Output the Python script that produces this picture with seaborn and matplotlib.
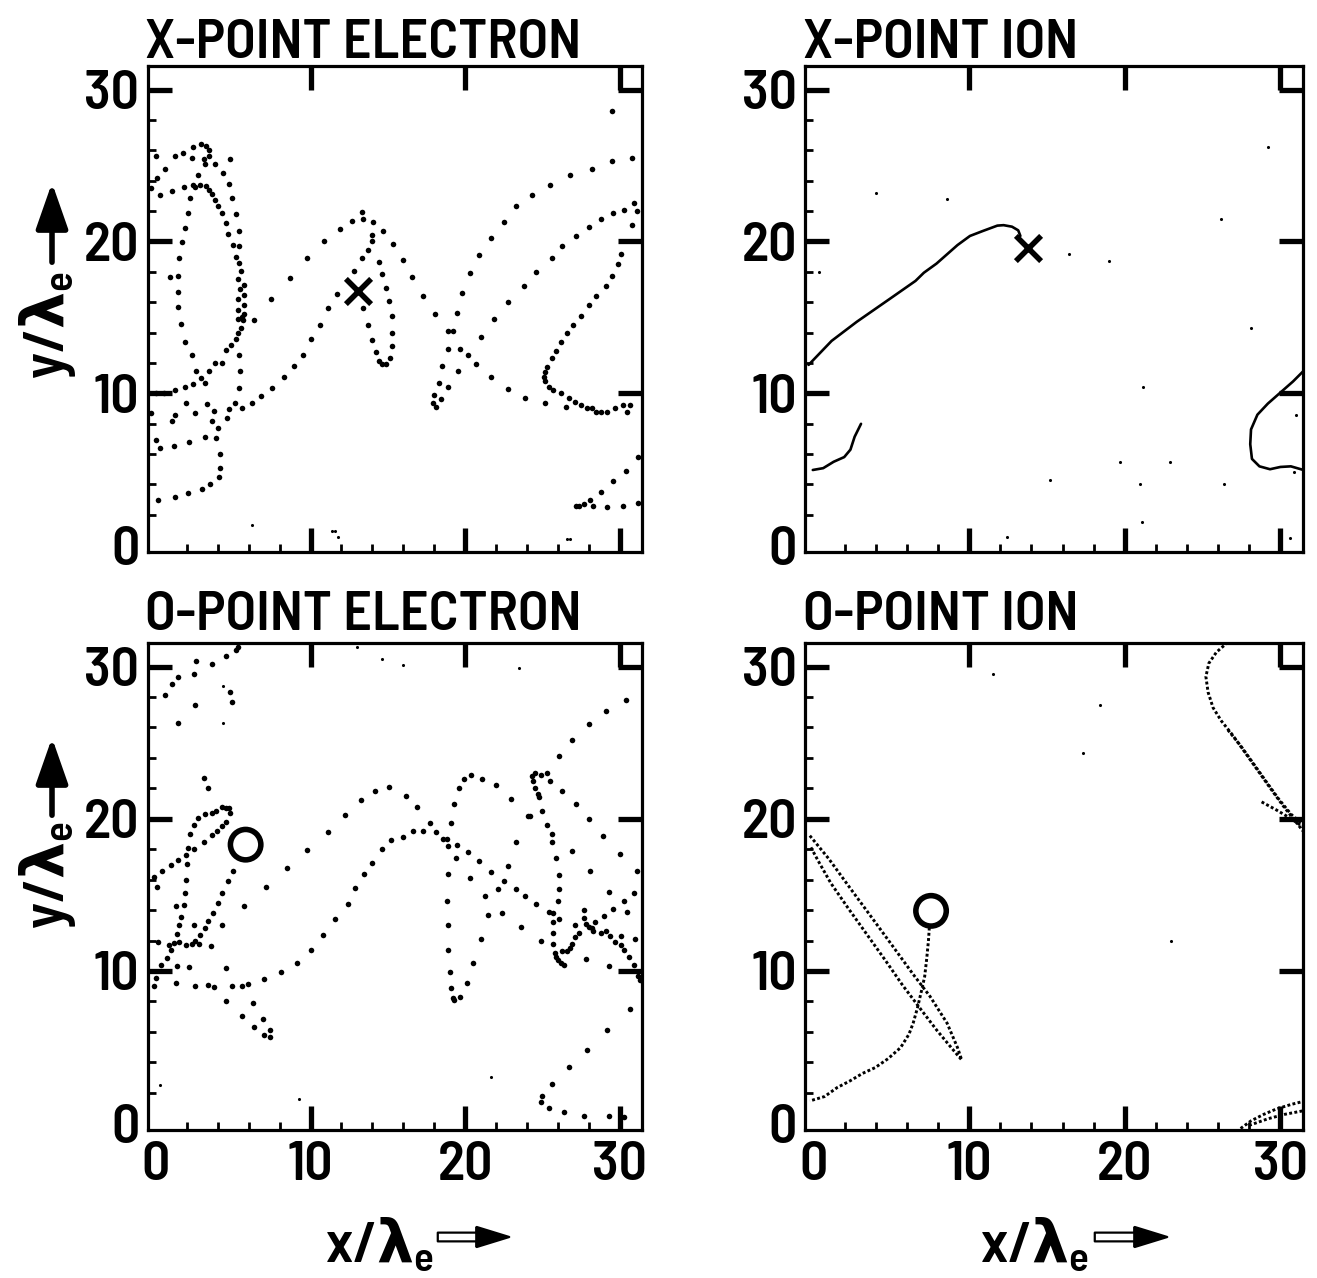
import matplotlib
matplotlib.use("Agg")
import matplotlib.pyplot as plt
import numpy as np
import pandas as pd
import seaborn as sns
from matplotlib.patches import FancyArrowPatch
from matplotlib.ticker import FixedLocator

# ---------------- data (units of lambda_e) ----------------
major_ticks = [0, 10, 20, 30]
tick_labels = ["0", "10", "20", "30"]
minor_ticks = [2, 4, 6, 8, 12, 14, 16, 18, 22, 24, 26, 28]

titles = ["X-POINT ELECTRON", "X-POINT ION", "O-POINT ELECTRON", "O-POINT ION"]

# X-point electron: particle positions (dots), left part
xe_dots_left = [
    (0.0, 25.6), (1.2, 25.6), (1.75, 25.8), (2.4, 26.2), (2.9, 26.4), (3.25, 26.25), (3.4, 26.0),
    (3.4, 25.6), (3.1, 25.4), (3.15, 25.1), (2.3, 25.5), (3.8, 25.1), (4.8, 25.4), (0.6, 24.8),
    (4.35, 24.5), (2.75, 24.4), (0.05, 24.2), (2.4, 23.7), (2.5, 23.6), (2.85, 23.7), (3.25, 23.65),
    (1.8, 23.55), (1.05, 23.3), (0.25, 23.05), (-0.35, 23.5), (4.7, 23.75), (3.45, 23.4), (3.6, 23.1),
    (4.9, 22.85), (2.2, 22.85), (3.8, 22.75), (4.0, 22.35),
    (2.05, 21.9), (4.3, 21.85), (5.15, 21.8), (4.5, 21.2), (1.9, 20.9), (5.35, 20.7), (4.65, 20.5),
    (5.0, 19.75), (5.4, 19.7), (1.7, 19.95),
    (1.5, 18.9), (5.2, 18.95), (5.4, 18.55), (5.5, 18.05), (0.9, 17.65), (1.45, 17.7), (5.3, 17.5),
    (5.7, 17.15), (5.45, 16.85), (1.45, 16.65), (5.3, 16.2), (5.7, 16.45),
    (1.45, 15.65), (5.7, 15.8), (5.3, 15.5), (5.7, 15.2), (5.55, 15.05), (5.3, 14.9), (5.6, 14.8),
    (6.35, 14.8), (1.6, 14.55), (5.5, 14.3),
    (5.3, 13.95), (5.15, 13.55), (1.9, 13.4), (4.85, 13.2), (4.55, 12.85), (5.4, 12.55), (2.3, 12.5),
    (4.3, 12.0), (3.85, 12.0), (3.45, 11.45), (2.6, 11.5), (2.9, 11.0), (3.2, 10.7), (2.4, 10.6),
    (1.85, 10.4), (1.2, 10.2), (0.5, 10.05), (0.0, 10.0), (5.45, 11.45), (5.4, 10.35),
    (-0.3, 8.7), (1.2, 8.6), (1.05, 8.2), (1.95, 9.35), (2.55, 8.7), (3.3, 9.3), (3.75, 8.85),
    (4.6, 8.4), (4.7, 8.95), (5.1, 9.35), (5.55, 9.05), (6.2, 9.35), (6.8, 9.8), (7.5, 10.35),
    (3.65, 8.15), (4.0, 7.7), (3.15, 7.15), (3.9, 7.05), (2.15, 6.8), (1.15, 6.5), (0.0, 6.9),
    (0.25, 6.4), (4.15, 6.0), (4.15, 5.1), (4.05, 4.5), (3.5, 4.0), (2.95, 3.7), (2.1, 3.45),
    (1.2, 3.2), (0.1, 3.0),
]
# X-point electron: middle part (around the X point)
xe_dots_mid = [
    (8.3, 11.05), (8.95, 11.8), (9.5, 12.55), (10.05, 13.55), (10.6, 14.5), (11.1, 15.6),
    (11.7, 16.55), (12.8, 18.05), (13.35, 18.9), (13.7, 19.45), (14.0, 20.0), (14.0, 20.4),
    (14.05, 21.25), (14.7, 20.7), (13.4, 21.45), (13.35, 21.95), (12.7, 21.35), (11.9, 20.85),
    (10.85, 20.0), (9.8, 18.9), (8.65, 17.6), (7.45, 16.2),
    (14.45, 18.65), (14.65, 17.85), (14.9, 16.9), (15.1, 16.1), (15.25, 15.1), (15.3, 14.0),
    (15.25, 13.1), (15.15, 12.3), (14.9, 11.95), (14.65, 11.9), (14.45, 12.15), (14.25, 12.75),
    (14.0, 13.5), (13.7, 14.5), (13.4, 15.6),
]
# X-point electron: right part
xe_dots_right = [
    (15.35, 19.8), (16.0, 18.75), (16.55, 17.65), (17.3, 16.4), (18.05, 15.2), (18.9, 14.1),
    (19.2, 14.1), (18.9, 12.9), (18.5, 11.8), (18.3, 10.7), (18.0, 9.9), (17.95, 9.35), (18.1, 9.1),
    (18.45, 9.6), (18.9, 10.4), (19.55, 11.45), (19.7, 12.9), (20.2, 12.55), (20.7, 11.9),
    (21.7, 11.05), (22.8, 10.3), (23.9, 9.7), (25.2, 9.35), (26.5, 9.1),
    (19.5, 15.3), (19.8, 16.6), (20.3, 17.9), (20.9, 19.1), (21.7, 20.2), (22.5, 21.3), (23.3, 22.3),
    (24.3, 23.05), (25.5, 23.7), (26.8, 24.35), (28.2, 24.8), (29.5, 25.3), (30.8, 25.5),
    (21.0, 13.7), (21.9, 14.9), (22.8, 16.0), (23.8, 17.05), (24.6, 18.0), (25.6, 18.9), (26.3, 19.7),
    (27.2, 20.35), (28.0, 20.95), (28.8, 21.5), (29.6, 21.85), (30.3, 22.1), (30.9, 22.5),
    (31.1, 22.0), (30.8, 21.1),
    (30.1, 19.2), (29.9, 18.5), (29.5, 17.7), (29.1, 17.05), (28.5, 16.4), (28.0, 15.8), (27.5, 15.1),
    (27.0, 14.5), (26.6, 13.95), (26.2, 13.4), (25.9, 12.8), (25.6, 12.3), (25.3, 11.75), (25.2, 11.4),
    (25.1, 11.05), (25.2, 10.8), (25.4, 10.4), (25.7, 10.2), (26.2, 10.0), (26.7, 9.7), (27.1, 9.4),
    (27.5, 9.2), (27.9, 9.0), (28.2, 9.0), (28.5, 8.8), (28.8, 8.75), (29.2, 8.8), (29.7, 9.0),
    (30.2, 9.2), (30.5, 8.8), (30.7, 9.25),
    (31.2, 5.8), (30.4, 4.9), (29.6, 4.2), (28.8, 3.5), (28.1, 3.0), (27.7, 2.7), (27.4, 2.6),
    (27.2, 2.6), (28.3, 2.6), (29.2, 2.5), (30.2, 2.55), (31.2, 2.8),
    (29.5, 28.6),
]
xe_specks = [(6.2, 1.3), (11.4, 0.95), (11.6, 0.9), (11.8, 0.55), (26.6, 0.4), (26.8, 0.4)]

# O-point electron: particle positions (dots)
oe_dots_left = [
    (5.3, 31.3), (5.2, 31.1), (4.55, 30.7), (2.6, 30.35), (3.65, 30.2), (1.45, 29.3), (2.45, 29.5),
    (1.05, 28.85), (0.6, 28.15), (4.8, 28.3), (4.9, 27.65), (2.5, 27.5), (1.4, 26.3),
    (3.1, 22.7), (3.35, 22.05),
    (4.75, 20.7), (4.8, 20.4), (4.5, 20.7), (4.3, 20.75), (3.9, 20.5), (3.6, 20.4), (3.15, 20.3),
    (2.7, 20.05), (2.45, 19.6), (2.2, 19.0), (2.05, 18.05), (1.95, 17.6), (2.0, 17.0), (1.45, 17.3),
    (0.95, 16.95), (0.4, 16.55), (-0.1, 16.15), (0.05, 15.5),
    (4.55, 19.8), (4.3, 19.5), (3.95, 19.2), (3.6, 18.95), (3.1, 18.5), (2.45, 18.0),
    (5.0, 16.6), (4.65, 15.9), (4.3, 15.15), (4.0, 14.45), (3.7, 13.8), (3.35, 13.3), (3.15, 12.85),
    (2.85, 12.35), (2.55, 11.95), (2.3, 11.75), (1.95, 11.7), (1.5, 11.9), (1.15, 11.85), (0.85, 11.7),
    (0.95, 11.35), (0.7, 10.85), (0.3, 10.4), (0.0, 9.55), (-0.1, 9.0),
    (1.95, 16.0), (1.85, 15.15), (1.8, 14.35), (1.3, 14.3), (1.65, 13.55), (1.5, 13.0), (1.35, 12.45),
    (0.15, 11.9), (2.45, 13.05), (2.8, 11.75), (3.55, 11.65), (4.25, 13.0), (1.35, 10.35), (2.15, 10.25),
    (1.3, 9.2), (2.5, 9.0), (3.35, 9.1), (3.75, 8.95), (4.9, 9.0), (5.55, 9.0), (5.95, 9.15), (7.0, 9.45),
    (8.1, 9.9), (9.15, 10.5), (10.0, 11.35), (10.8, 12.35), (11.6, 13.4), (12.4, 14.4), (12.9, 15.45),
    (13.45, 16.35), (14.0, 17.1), (14.6, 18.0), (15.2, 18.6),
    (5.7, 14.25), (7.1, 15.5), (8.5, 16.75), (9.8, 17.95), (11.1, 19.1), (12.25, 20.25), (13.25, 21.25),
    (14.15, 21.85), (15.05, 22.1),
    (4.5, 10.2), (4.5, 8.05), (6.25, 7.9), (5.55, 7.05), (6.95, 6.85), (6.35, 6.35), (7.35, 6.1),
    (7.0, 5.8), (7.35, 5.65),
]
oe_dots_right = [
    (30.4, 27.8), (29.1, 27.1), (28.0, 26.2), (26.9, 25.2), (26.1, 24.1),
    (20.4, 22.9), (19.9, 22.6), (21.1, 22.6), (22.0, 22.2), (19.6, 22.0), (24.3, 22.8), (24.5, 23.0),
    (24.9, 22.9), (25.3, 23.0), (24.4, 22.5), (25.5, 22.5), (24.5, 22.0), (26.3, 21.8),
    (16.2, 21.5), (24.7, 21.6), (24.8, 21.4), (19.3, 21.0), (23.0, 21.3), (16.9, 20.8), (25.0, 20.5),
    (27.2, 21.0), (24.05, 20.2), (24.2, 20.2), (28.0, 20.0), (19.1, 19.7),
    (17.7, 19.7), (25.3, 19.6), (17.3, 19.2), (16.6, 19.2), (16.0, 18.8), (18.1, 19.1), (18.6, 18.7),
    (18.8, 18.7), (18.9, 18.2), (19.5, 18.3), (25.6, 19.0), (25.6, 18.5), (28.9, 18.9), (23.3, 18.5),
    (20.2, 17.8), (19.4, 17.4), (25.9, 17.4), (26.9, 17.9), (30.0, 17.7), (20.9, 17.2), (22.8, 16.9),
    (18.9, 16.4), (21.7, 16.5), (26.1, 16.3), (20.3, 16.1), (28.1, 16.6), (31.1, 16.6),
    (22.5, 15.9), (22.1, 15.4), (23.3, 15.4), (26.1, 15.4), (29.3, 15.2), (30.9, 15.1), (18.8, 14.6),
    (21.3, 14.9), (23.9, 14.9), (26.0, 14.6), (30.3, 14.6),
    (24.6, 14.4), (21.5, 13.7), (22.4, 13.8), (25.4, 13.9), (25.7, 13.8), (27.7, 14.0), (29.6, 14.1),
    (30.5, 13.9), (26.1, 13.4), (25.7, 13.2), (27.7, 13.5), (29.0, 13.6), (27.1, 13.0), (27.8, 13.1),
    (28.0, 12.9), (28.2, 12.8), (28.3, 12.6), (28.4, 13.2), (18.9, 13.0), (23.6, 12.9),
    (25.7, 12.5), (27.4, 12.5), (28.8, 12.5), (29.1, 12.6), (29.4, 12.3), (30.1, 12.3), (31.0, 12.1),
    (21.0, 12.1), (24.9, 12.0), (27.1, 12.2), (25.7, 11.8), (26.9, 11.8), (29.7, 11.9), (30.1, 11.7),
    (18.9, 11.4), (26.8, 11.5), (26.3, 11.3), (26.6, 11.3), (25.8, 11.2), (30.3, 11.4),
    (25.9, 10.9), (26.0, 10.7), (26.2, 10.5), (26.4, 10.4), (27.8, 10.8), (30.6, 10.9), (20.5, 10.5),
    (29.3, 10.3), (30.9, 10.4), (31.2, 9.7), (31.3, 9.4), (19.0, 9.9), (20.1, 9.2), (19.1, 8.9),
    (19.7, 8.3), (19.2, 8.2), (19.3, 8.1), (30.7, 7.5),
    (29.2, 6.1), (27.9, 4.8), (26.7, 3.7), (25.6, 2.6), (25.0, 1.8), (24.9, 1.4), (25.4, 1.0),
    (26.4, 0.7), (27.7, 0.5), (29.3, 0.5), (30.3, 0.4),
]
oe_specks = [(13.0, 31.3), (14.6, 30.5), (4.35, 28.7), (4.35, 26.3), (0.25, 2.5), (9.25, 1.6),
             (16.0, 30.1), (23.5, 29.9), (21.7, 3.0)]

# X-point ion: trajectories (continuous lines)
xi_curve_main = [(-0.32, 11.87), (1.16, 13.45), (2.78, 14.71), (4.93, 16.24), (6.55, 17.4),
                 (7.09, 17.94), (7.9, 18.54), (9.25, 19.76), (10.05, 20.36), (10.86, 20.68),
                 (11.81, 21.04), (12.21, 21.07), (12.75, 20.97), (13.15, 20.73), (13.29, 20.36)]
xi_curve_low = [(-0.05, 4.95), (0.62, 5.07), (1.29, 5.49), (1.97, 5.8), (2.37, 6.29),
                (2.64, 7.14), (3.05, 7.99)]
xi_curve_right = [(31.56, 11.55), (30.81, 10.78), (30.0, 10.05), (29.19, 9.32), (28.52, 8.59),
                  (28.11, 7.62), (28.06, 6.65), (28.17, 5.68), (28.65, 5.19), (29.33, 5.0),
                  (30.0, 5.15), (30.67, 5.19), (31.48, 4.95)]
xi_specks = [(29.2, 26.2), (4.0, 23.2), (8.6, 22.8), (26.2, 21.5), (16.4, 19.2), (19.0, 18.7),
             (0.35, 18.0), (28.1, 14.3), (21.2, 10.4), (31.0, 8.6), (19.7, 5.5), (22.9, 5.5),
             (15.2, 4.3), (26.4, 4.05), (21.0, 4.0), (30.9, 4.8), (21.1, 1.55), (12.4, 0.53),
             (30.6, 0.5)]

# O-point ion: trajectories (densely dotted)
oi_curve_a = [(7.44, 12.85), (7.38, 11.97), (7.27, 10.8), (7.14, 9.64), (6.95, 8.76), (6.68, 7.59),
              (6.4, 6.57), (6.13, 5.84), (5.59, 4.96), (4.78, 4.23), (3.96, 3.65), (3.15, 3.27),
              (2.33, 2.77), (1.52, 2.34), (0.71, 1.75), (-0.24, 1.46)]
oi_curve_b = [(-0.24, 18.89), (0.98, 17.37), (2.33, 15.47), (3.69, 13.58), (5.05, 11.68),
              (6.4, 9.78), (7.49, 8.32), (8.58, 6.57), (9.25, 4.96), (9.52, 4.15),
              (8.85, 4.96), (7.9, 6.13), (6.81, 7.59), (5.73, 9.05), (4.64, 10.66), (3.42, 12.41),
              (2.2, 14.16), (1.11, 15.77), (0.3, 17.23), (-0.24, 18.25)]
oi_curve_c = [(26.62, 31.6), (25.89, 30.95), (25.4, 30.22), (25.21, 29.34), (25.35, 28.32),
              (25.67, 27.3), (26.21, 26.42), (26.89, 25.55), (27.71, 24.38), (28.52, 23.21),
              (29.33, 22.04), (30.15, 20.88), (30.83, 20.0), (31.51, 19.12)]
oi_curve_d = [(26.62, 25.84), (27.43, 24.82), (28.25, 23.65), (29.06, 22.48), (29.88, 21.31),
              (30.69, 20.29), (31.51, 19.56)]
oi_curve_e = [(28.79, 21.11), (29.74, 20.58), (30.69, 20.0), (31.51, 19.42)]
oi_curve_f = [(27.44, -0.35), (28.11, 0.15), (28.93, 0.58), (29.74, 0.93), (30.69, 1.23), (31.59, 1.46)]
oi_curve_g = [(27.98, -0.15), (29.2, 0.29), (30.28, 0.58), (31.5, 0.82)]
oi_specks = [(18.4, 27.5), (17.3, 24.3), (11.5, 29.5), (23.0, 12.0)]

# reference markers
x_marker_electron = (13.1, 16.75)
x_marker_ion = (13.8, 19.55)
o_marker_electron = (5.8, 18.3)
o_marker_ion = (7.55, 13.95)

# ---------------- styling ----------------
sns.set_theme(style="white")
FONT = ["Barlow Semi Condensed", "DejaVu Sans"]
WEIGHT = 600
plt.rcParams["font.family"] = FONT
plt.rcParams["font.weight"] = WEIGHT
plt.rcParams["mathtext.fontset"] = "custom"
plt.rcParams["mathtext.rm"] = "Barlow Semi Condensed:semibold"
plt.rcParams["mathtext.bf"] = "Barlow Semi Condensed:semibold"
plt.rcParams["mathtext.sf"] = "Barlow Semi Condensed:semibold"
plt.rcParams["mathtext.it"] = "DejaVu Sans:bold"

W, H = 1317, 1278
fig = plt.figure(figsize=(W / 100, H / 100), dpi=100)
fig.patch.set_facecolor("white")


def px_rect(left, top, right, bottom):
    return [left / W, 1 - bottom / H, (right - left) / W, (bottom - top) / H]


axes = [
    fig.add_axes(px_rect(147.5, 66, 642, 552)),
    fig.add_axes(px_rect(805, 66, 1303, 552)),
    fig.add_axes(px_rect(147.5, 643, 642, 1130)),
    fig.add_axes(px_rect(805, 643, 1303, 1130)),
]


def dots(ax, pts, s=16):
    df = pd.DataFrame(pts, columns=["x", "y"])
    sns.scatterplot(data=df, x="x", y="y", s=s, color="black", linewidth=0, ax=ax, legend=False)


def curve(ax, pts, ls="-", lw=1.8):
    df = pd.DataFrame(pts, columns=["x", "y"])
    sns.lineplot(data=df, x="x", y="y", sort=False, estimator=None, color="black", lw=lw,
                 linestyle=ls, ax=ax, legend=False)


def setup(ax, xlabels):
    ax.set_xlim(-0.55, 31.45)
    ax.set_ylim(-0.45, 31.55)
    ax.set_xlabel("")
    ax.set_ylabel("")
    ax.set_xticks(major_ticks)
    ax.set_yticks(major_ticks)
    ax.set_yticklabels(tick_labels)
    ax.set_xticklabels(tick_labels if xlabels else [])
    ax.xaxis.set_minor_locator(FixedLocator(minor_ticks))
    ax.yaxis.set_minor_locator(FixedLocator(minor_ticks))
    ax.tick_params(which="major", direction="in", length=17, width=3.8, color="black",
                   top=True, right=True, bottom=True, left=True, labelsize=40, pad=6,
                   labelcolor="black")
    ax.tick_params(axis="x", which="major", pad=8)
    ax.tick_params(which="minor", direction="in", length=6, width=2.0, color="black",
                   top=False, right=False, bottom=True, left=True)
    for t in ax.xaxis.get_major_ticks()[:1] + ax.yaxis.get_major_ticks()[:1]:
        t.tick1line.set_visible(False)
        t.tick2line.set_visible(False)
    for lab in ax.get_xticklabels() + ax.get_yticklabels():
        lab.set_fontweight(WEIGHT)
        lab.set_family(FONT)
    for sp in ax.spines.values():
        sp.set_linewidth(2.3)
        sp.set_color("black")
    ax.grid(False)
    ax.set_facecolor("white")


# X-point electron
ax = axes[0]
dots(ax, xe_dots_left)
dots(ax, xe_dots_mid)
dots(ax, xe_dots_right)
dots(ax, xe_specks, s=5)
sns.scatterplot(x=[x_marker_electron[0]], y=[x_marker_electron[1]], marker="x", s=330,
                color="black", linewidth=4.0, ax=ax, legend=False)

# X-point ion
ax = axes[1]
for c in (xi_curve_main, xi_curve_low, xi_curve_right):
    curve(ax, c, lw=1.9)
dots(ax, xi_specks, s=5)
sns.scatterplot(x=[x_marker_ion[0]], y=[x_marker_ion[1]], marker="x", s=330,
                color="black", linewidth=4.0, ax=ax, legend=False)

# O-point electron
ax = axes[2]
dots(ax, oe_dots_left)
dots(ax, oe_dots_right)
dots(ax, oe_specks, s=5)
sns.scatterplot(x=[o_marker_electron[0]], y=[o_marker_electron[1]], marker="o", s=480,
                facecolor="none", edgecolor="black", linewidth=4.0, ax=ax, legend=False)

# O-point ion
ax = axes[3]
dotted = (0, (1.0, 0.8))
for c in (oi_curve_a, oi_curve_b, oi_curve_c, oi_curve_d, oi_curve_e, oi_curve_f, oi_curve_g):
    curve(ax, c, ls=dotted, lw=2.1)
dots(ax, oi_specks, s=5)
sns.scatterplot(x=[o_marker_ion[0]], y=[o_marker_ion[1]], marker="o", s=480,
                facecolor="none", edgecolor="black", linewidth=4.0, ax=ax, legend=False)

for i, ax in enumerate(axes):
    setup(ax, xlabels=(i >= 2))

# titles
title_pos = [(145, 58), (803, 58), (145, 630), (803, 630)]
for (tx, ty), t in zip(title_pos, titles):
    fig.text(tx / W, 1 - ty / H, t, fontsize=40.5, fontweight=WEIGHT, family=FONT,
             ha="left", va="baseline", color="black")

# y labels with upward arrows
for cy, tip, base in [(325, 180, 265), (875, 735, 818)]:
    fig.text(48 / W, 1 - cy / H, r"$\mathrm{y/}\lambda_\mathrm{e}$", rotation=90, fontsize=42,
             ha="center", va="center", color="black")
    fig.add_artist(FancyArrowPatch((52 / W, 1 - base / H), (52 / W, 1 - tip / H),
                                   transform=fig.transFigure,
                                   arrowstyle="-|>,head_width=0.35,head_length=1.0",
                                   mutation_scale=28, lw=4, color="black"))

# x labels with right arrows
for lx, a0, a1 in [(325, 435, 512), (980, 1092, 1170)]:
    fig.text(lx / W, 1 - 1262 / H, r"$\mathrm{x/}\lambda_\mathrm{e}$", fontsize=42, ha="left",
             va="baseline", color="black")
    fig.add_artist(FancyArrowPatch((a0 / W, 1 - 1237 / H), (a1 / W, 1 - 1237 / H),
                                   transform=fig.transFigure,
                                   arrowstyle="simple,tail_width=0.35,head_width=0.8,head_length=1.3",
                                   mutation_scale=18, lw=1.6, fc="white", ec="black"))
    fig.add_artist(FancyArrowPatch(((a1 - 26) / W, 1 - 1237 / H), (a1 / W, 1 - 1237 / H),
                                   transform=fig.transFigure,
                                   arrowstyle="-|>,head_width=0.4,head_length=1.3",
                                   mutation_scale=18, lw=0.5, color="black"))

fig.savefig("out.png", dpi=100, facecolor="white")
